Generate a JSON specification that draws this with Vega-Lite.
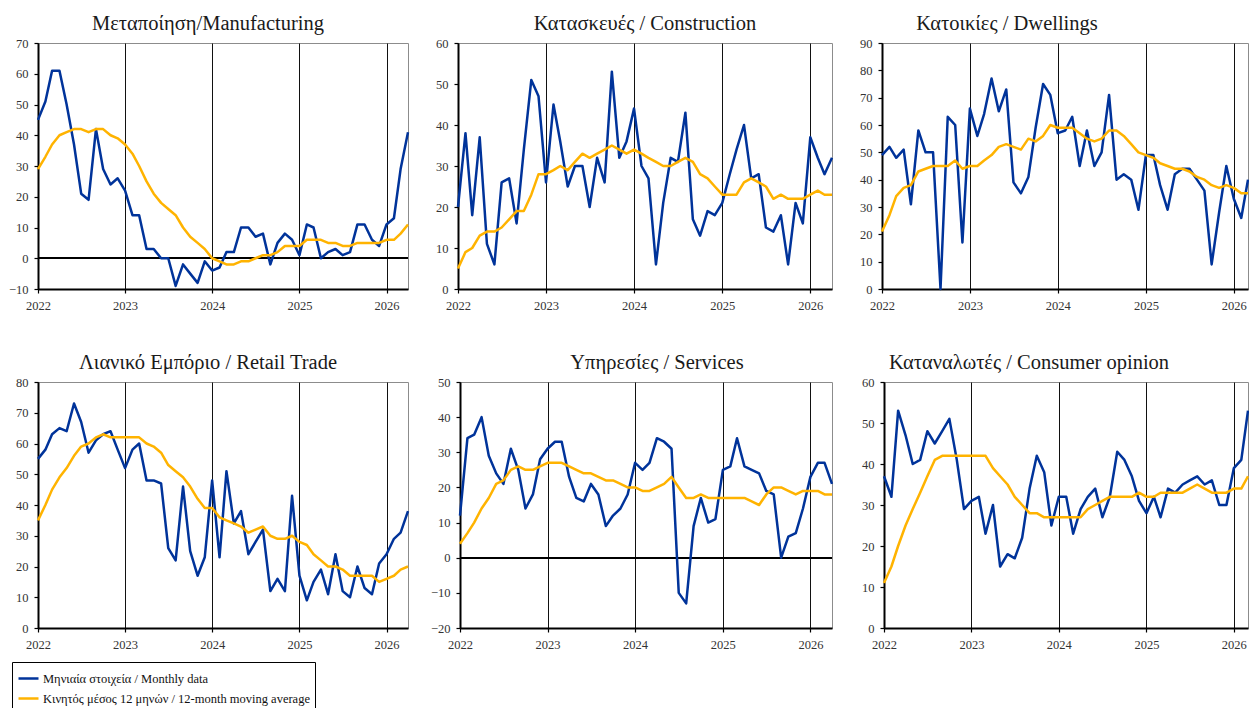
{
  "$schema": "https://vega.github.io/schema/vega-lite/v6.json",
  "autosize": {"type": "pad"},
  "padding": {"left": 7, "top": 13, "right": 0, "bottom": 0},
  "background": "white",
  "config": {
    "font": "Liberation Serif",
    "view": {"stroke": "#8c8c8c", "strokeWidth": 1},
    "axis": {"labelFont": "Liberation Serif", "labelFontSize": 12.5, "labelColor": "#333333", "domainColor": "#000000", "domainWidth": 2, "tickColor": "#000000", "tickSize": 4, "tickWidth": 1.2, "labelPadding": 6, "gridColor": "#111111", "gridWidth": 1, "gridOpacity": 1},
    "axisY": {"grid": false},
    "axisX": {"grid": true, "labelFlush": false, "labelOverlap": false},
    "title": {"font": "Liberation Serif", "fontSize": 20.5, "fontWeight": "normal", "color": "#1a1a1a", "frame": "group", "anchor": "middle", "offset": 3, "baseline": "alphabetic"},
    "legend": {"labelFont": "Liberation Serif", "labelFontSize": 12.5, "labelColor": "#111111", "symbolType": "stroke", "symbolSize": 400, "symbolStrokeWidth": 2.5, "padding": 5, "rowPadding": 2, "labelOffset": 3, "labelLimit": 600, "strokeColor": "#000000", "fillColor": "#ffffff"},
    "line": {"strokeWidth": 2.5, "strokeJoin": "round"}
  },
  "datasets": {
    "manufacturing": [
      {"month":"2022-01","monthly":45,"ma":29},{"month":"2022-02","monthly":51,"ma":33},{"month":"2022-03","monthly":61,"ma":37},{"month":"2022-04","monthly":61,"ma":40},{"month":"2022-05","monthly":50,"ma":41},{"month":"2022-06","monthly":37,"ma":42},{"month":"2022-07","monthly":21,"ma":42},{"month":"2022-08","monthly":19,"ma":41},{"month":"2022-09","monthly":42,"ma":42},{"month":"2022-10","monthly":29,"ma":42},{"month":"2022-11","monthly":24,"ma":40},{"month":"2022-12","monthly":26,"ma":39},
      {"month":"2023-01","monthly":22,"ma":37},{"month":"2023-02","monthly":14,"ma":34},{"month":"2023-03","monthly":14,"ma":30},{"month":"2023-04","monthly":3,"ma":25},{"month":"2023-05","monthly":3,"ma":21},{"month":"2023-06","monthly":0,"ma":18},{"month":"2023-07","monthly":0,"ma":16},{"month":"2023-08","monthly":-9,"ma":14},{"month":"2023-09","monthly":-2,"ma":10},{"month":"2023-10","monthly":-5,"ma":7},{"month":"2023-11","monthly":-8,"ma":5},{"month":"2023-12","monthly":-1,"ma":3},
      {"month":"2024-01","monthly":-4,"ma":0},{"month":"2024-02","monthly":-3,"ma":-1},{"month":"2024-03","monthly":2,"ma":-2},{"month":"2024-04","monthly":2,"ma":-2},{"month":"2024-05","monthly":10,"ma":-1},{"month":"2024-06","monthly":10,"ma":-1},{"month":"2024-07","monthly":7,"ma":0},{"month":"2024-08","monthly":8,"ma":1},{"month":"2024-09","monthly":-2,"ma":1},{"month":"2024-10","monthly":5,"ma":2},{"month":"2024-11","monthly":8,"ma":4},{"month":"2024-12","monthly":6,"ma":4},
      {"month":"2025-01","monthly":1,"ma":4},{"month":"2025-02","monthly":11,"ma":6},{"month":"2025-03","monthly":10,"ma":6},{"month":"2025-04","monthly":0,"ma":6},{"month":"2025-05","monthly":2,"ma":5},{"month":"2025-06","monthly":3,"ma":5},{"month":"2025-07","monthly":1,"ma":4},{"month":"2025-08","monthly":2,"ma":4},{"month":"2025-09","monthly":11,"ma":5},{"month":"2025-10","monthly":11,"ma":5},{"month":"2025-11","monthly":6,"ma":5},{"month":"2025-12","monthly":4,"ma":5},
      {"month":"2026-01","monthly":11,"ma":6},{"month":"2026-02","monthly":13,"ma":6},{"month":"2026-03","monthly":29,"ma":8},{"month":"2026-04","monthly":41,"ma":11}
    ],
    "construction": [
      {"month":"2022-01","monthly":20,"ma":5},{"month":"2022-02","monthly":38,"ma":9},{"month":"2022-03","monthly":18,"ma":10},{"month":"2022-04","monthly":37,"ma":13},{"month":"2022-05","monthly":11,"ma":14},{"month":"2022-06","monthly":6,"ma":14},{"month":"2022-07","monthly":26,"ma":15},{"month":"2022-08","monthly":27,"ma":17},{"month":"2022-09","monthly":16,"ma":19},{"month":"2022-10","monthly":34,"ma":19},{"month":"2022-11","monthly":51,"ma":23},{"month":"2022-12","monthly":47,"ma":28},
      {"month":"2023-01","monthly":26,"ma":28},{"month":"2023-02","monthly":45,"ma":29},{"month":"2023-03","monthly":36,"ma":30},{"month":"2023-04","monthly":25,"ma":29},{"month":"2023-05","monthly":30,"ma":31},{"month":"2023-06","monthly":30,"ma":33},{"month":"2023-07","monthly":20,"ma":32},{"month":"2023-08","monthly":32,"ma":33},{"month":"2023-09","monthly":26,"ma":34},{"month":"2023-10","monthly":53,"ma":35},{"month":"2023-11","monthly":32,"ma":34},{"month":"2023-12","monthly":36,"ma":33},
      {"month":"2024-01","monthly":44,"ma":34},{"month":"2024-02","monthly":30,"ma":33},{"month":"2024-03","monthly":27,"ma":32},{"month":"2024-04","monthly":6,"ma":31},{"month":"2024-05","monthly":21,"ma":30},{"month":"2024-06","monthly":32,"ma":30},{"month":"2024-07","monthly":31,"ma":31},{"month":"2024-08","monthly":43,"ma":32},{"month":"2024-09","monthly":17,"ma":31},{"month":"2024-10","monthly":13,"ma":28},{"month":"2024-11","monthly":19,"ma":27},{"month":"2024-12","monthly":18,"ma":25},
      {"month":"2025-01","monthly":21,"ma":23},{"month":"2025-02","monthly":28,"ma":23},{"month":"2025-03","monthly":34,"ma":23},{"month":"2025-04","monthly":40,"ma":26},{"month":"2025-05","monthly":27,"ma":27},{"month":"2025-06","monthly":28,"ma":26},{"month":"2025-07","monthly":15,"ma":25},{"month":"2025-08","monthly":14,"ma":22},{"month":"2025-09","monthly":18,"ma":23},{"month":"2025-10","monthly":6,"ma":22},{"month":"2025-11","monthly":21,"ma":22},{"month":"2025-12","monthly":16,"ma":22},
      {"month":"2026-01","monthly":37,"ma":23},{"month":"2026-02","monthly":32,"ma":24},{"month":"2026-03","monthly":28,"ma":23},{"month":"2026-04","monthly":32,"ma":23}
    ],
    "dwellings": [
      {"month":"2022-01","monthly":49,"ma":21},{"month":"2022-02","monthly":52,"ma":27},{"month":"2022-03","monthly":48,"ma":34},{"month":"2022-04","monthly":51,"ma":37},{"month":"2022-05","monthly":31,"ma":38},{"month":"2022-06","monthly":58,"ma":43},{"month":"2022-07","monthly":50,"ma":44},{"month":"2022-08","monthly":50,"ma":45},{"month":"2022-09","monthly":0,"ma":45},{"month":"2022-10","monthly":63,"ma":45},{"month":"2022-11","monthly":60,"ma":47},{"month":"2022-12","monthly":17,"ma":44},
      {"month":"2023-01","monthly":66,"ma":45},{"month":"2023-02","monthly":56,"ma":45},{"month":"2023-03","monthly":64,"ma":47},{"month":"2023-04","monthly":77,"ma":49},{"month":"2023-05","monthly":65,"ma":52},{"month":"2023-06","monthly":73,"ma":53},{"month":"2023-07","monthly":39,"ma":52},{"month":"2023-08","monthly":35,"ma":51},{"month":"2023-09","monthly":41,"ma":55},{"month":"2023-10","monthly":59,"ma":54},{"month":"2023-11","monthly":75,"ma":56},{"month":"2023-12","monthly":71,"ma":60},
      {"month":"2024-01","monthly":57,"ma":59},{"month":"2024-02","monthly":58,"ma":59},{"month":"2024-03","monthly":63,"ma":59},{"month":"2024-04","monthly":45,"ma":57},{"month":"2024-05","monthly":58,"ma":55},{"month":"2024-06","monthly":45,"ma":54},{"month":"2024-07","monthly":50,"ma":55},{"month":"2024-08","monthly":71,"ma":58},{"month":"2024-09","monthly":40,"ma":58},{"month":"2024-10","monthly":42,"ma":56},{"month":"2024-11","monthly":40,"ma":53},{"month":"2024-12","monthly":29,"ma":50},
      {"month":"2025-01","monthly":49,"ma":49},{"month":"2025-02","monthly":49,"ma":48},{"month":"2025-03","monthly":38,"ma":46},{"month":"2025-04","monthly":29,"ma":45},{"month":"2025-05","monthly":42,"ma":44},{"month":"2025-06","monthly":44,"ma":44},{"month":"2025-07","monthly":44,"ma":43},{"month":"2025-08","monthly":40,"ma":41},{"month":"2025-09","monthly":36,"ma":40},{"month":"2025-10","monthly":9,"ma":38},{"month":"2025-11","monthly":28,"ma":37},{"month":"2025-12","monthly":45,"ma":38},
      {"month":"2026-01","monthly":33,"ma":37},{"month":"2026-02","monthly":26,"ma":35},{"month":"2026-03","monthly":40,"ma":35}
    ],
    "retail": [
      {"month":"2022-01","monthly":55,"ma":35},{"month":"2022-02","monthly":58,"ma":40},{"month":"2022-03","monthly":63,"ma":45},{"month":"2022-04","monthly":65,"ma":49},{"month":"2022-05","monthly":64,"ma":52},{"month":"2022-06","monthly":73,"ma":56},{"month":"2022-07","monthly":67,"ma":59},{"month":"2022-08","monthly":57,"ma":60},{"month":"2022-09","monthly":61,"ma":62},{"month":"2022-10","monthly":63,"ma":63},{"month":"2022-11","monthly":64,"ma":62},{"month":"2022-12","monthly":58,"ma":62},
      {"month":"2023-01","monthly":52,"ma":62},{"month":"2023-02","monthly":58,"ma":62},{"month":"2023-03","monthly":60,"ma":62},{"month":"2023-04","monthly":48,"ma":60},{"month":"2023-05","monthly":48,"ma":59},{"month":"2023-06","monthly":47,"ma":57},{"month":"2023-07","monthly":26,"ma":53},{"month":"2023-08","monthly":22,"ma":51},{"month":"2023-09","monthly":46,"ma":49},{"month":"2023-10","monthly":25,"ma":46},{"month":"2023-11","monthly":17,"ma":42},{"month":"2023-12","monthly":23,"ma":39},
      {"month":"2024-01","monthly":48,"ma":39},{"month":"2024-02","monthly":23,"ma":36},{"month":"2024-03","monthly":51,"ma":35},{"month":"2024-04","monthly":34,"ma":34},{"month":"2024-05","monthly":38,"ma":33},{"month":"2024-06","monthly":24,"ma":31},{"month":"2024-07","monthly":28,"ma":32},{"month":"2024-08","monthly":32,"ma":33},{"month":"2024-09","monthly":12,"ma":30},{"month":"2024-10","monthly":16,"ma":29},{"month":"2024-11","monthly":12,"ma":29},{"month":"2024-12","monthly":43,"ma":30},
      {"month":"2025-01","monthly":17,"ma":28},{"month":"2025-02","monthly":9,"ma":27},{"month":"2025-03","monthly":15,"ma":24},{"month":"2025-04","monthly":19,"ma":22},{"month":"2025-05","monthly":11,"ma":20},{"month":"2025-06","monthly":24,"ma":20},{"month":"2025-07","monthly":12,"ma":19},{"month":"2025-08","monthly":10,"ma":17},{"month":"2025-09","monthly":20,"ma":17},{"month":"2025-10","monthly":13,"ma":17},{"month":"2025-11","monthly":11,"ma":17},{"month":"2025-12","monthly":21,"ma":15},
      {"month":"2026-01","monthly":24,"ma":16},{"month":"2026-02","monthly":29,"ma":17},{"month":"2026-03","monthly":31,"ma":19},{"month":"2026-04","monthly":38,"ma":20}
    ],
    "services": [
      {"month":"2022-01","monthly":12,"ma":4},{"month":"2022-02","monthly":34,"ma":7},{"month":"2022-03","monthly":35,"ma":10},{"month":"2022-04","monthly":40,"ma":14},{"month":"2022-05","monthly":29,"ma":17},{"month":"2022-06","monthly":24,"ma":21},{"month":"2022-07","monthly":21,"ma":22},{"month":"2022-08","monthly":31,"ma":25},{"month":"2022-09","monthly":25,"ma":26},{"month":"2022-10","monthly":14,"ma":25},{"month":"2022-11","monthly":18,"ma":25},{"month":"2022-12","monthly":28,"ma":26},
      {"month":"2023-01","monthly":31,"ma":27},{"month":"2023-02","monthly":33,"ma":27},{"month":"2023-03","monthly":33,"ma":27},{"month":"2023-04","monthly":23,"ma":26},{"month":"2023-05","monthly":17,"ma":25},{"month":"2023-06","monthly":16,"ma":24},{"month":"2023-07","monthly":21,"ma":24},{"month":"2023-08","monthly":18,"ma":23},{"month":"2023-09","monthly":9,"ma":22},{"month":"2023-10","monthly":12,"ma":22},{"month":"2023-11","monthly":14,"ma":21},{"month":"2023-12","monthly":18,"ma":20},
      {"month":"2024-01","monthly":27,"ma":20},{"month":"2024-02","monthly":25,"ma":19},{"month":"2024-03","monthly":27,"ma":19},{"month":"2024-04","monthly":34,"ma":20},{"month":"2024-05","monthly":33,"ma":21},{"month":"2024-06","monthly":31,"ma":23},{"month":"2024-07","monthly":-10,"ma":20},{"month":"2024-08","monthly":-13,"ma":17},{"month":"2024-09","monthly":9,"ma":17},{"month":"2024-10","monthly":17,"ma":18},{"month":"2024-11","monthly":10,"ma":17},{"month":"2024-12","monthly":11,"ma":17},
      {"month":"2025-01","monthly":25,"ma":17},{"month":"2025-02","monthly":26,"ma":17},{"month":"2025-03","monthly":34,"ma":17},{"month":"2025-04","monthly":26,"ma":17},{"month":"2025-05","monthly":25,"ma":16},{"month":"2025-06","monthly":24,"ma":15},{"month":"2025-07","monthly":19,"ma":18},{"month":"2025-08","monthly":18,"ma":20},{"month":"2025-09","monthly":0,"ma":20},{"month":"2025-10","monthly":6,"ma":19},{"month":"2025-11","monthly":7,"ma":18},{"month":"2025-12","monthly":14,"ma":19},
      {"month":"2026-01","monthly":23,"ma":19},{"month":"2026-02","monthly":27,"ma":19},{"month":"2026-03","monthly":27,"ma":18},{"month":"2026-04","monthly":21,"ma":18}
    ],
    "consumer": [
      {"month":"2022-01","monthly":37,"ma":11},{"month":"2022-02","monthly":32,"ma":15},{"month":"2022-03","monthly":53,"ma":20},{"month":"2022-04","monthly":47,"ma":25},{"month":"2022-05","monthly":40,"ma":29},{"month":"2022-06","monthly":41,"ma":33},{"month":"2022-07","monthly":48,"ma":37},{"month":"2022-08","monthly":45,"ma":41},{"month":"2022-09","monthly":48,"ma":42},{"month":"2022-10","monthly":51,"ma":42},{"month":"2022-11","monthly":41,"ma":42},{"month":"2022-12","monthly":29,"ma":42},
      {"month":"2023-01","monthly":31,"ma":42},{"month":"2023-02","monthly":32,"ma":42},{"month":"2023-03","monthly":23,"ma":42},{"month":"2023-04","monthly":30,"ma":39},{"month":"2023-05","monthly":15,"ma":37},{"month":"2023-06","monthly":18,"ma":35},{"month":"2023-07","monthly":17,"ma":32},{"month":"2023-08","monthly":22,"ma":30},{"month":"2023-09","monthly":34,"ma":28},{"month":"2023-10","monthly":42,"ma":28},{"month":"2023-11","monthly":38,"ma":27},{"month":"2023-12","monthly":25,"ma":27},
      {"month":"2024-01","monthly":32,"ma":27},{"month":"2024-02","monthly":32,"ma":27},{"month":"2024-03","monthly":23,"ma":27},{"month":"2024-04","monthly":29,"ma":27},{"month":"2024-05","monthly":32,"ma":29},{"month":"2024-06","monthly":34,"ma":30},{"month":"2024-07","monthly":27,"ma":31},{"month":"2024-08","monthly":32,"ma":32},{"month":"2024-09","monthly":43,"ma":32},{"month":"2024-10","monthly":41,"ma":32},{"month":"2024-11","monthly":37,"ma":32},{"month":"2024-12","monthly":31,"ma":33},
      {"month":"2025-01","monthly":28,"ma":32},{"month":"2025-02","monthly":32,"ma":32},{"month":"2025-03","monthly":27,"ma":33},{"month":"2025-04","monthly":34,"ma":33},{"month":"2025-05","monthly":33,"ma":33},{"month":"2025-06","monthly":35,"ma":33},{"month":"2025-07","monthly":36,"ma":34},{"month":"2025-08","monthly":37,"ma":35},{"month":"2025-09","monthly":35,"ma":34},{"month":"2025-10","monthly":36,"ma":33},{"month":"2025-11","monthly":30,"ma":33},{"month":"2025-12","monthly":30,"ma":33},
      {"month":"2026-01","monthly":39,"ma":34},{"month":"2026-02","monthly":41,"ma":34},{"month":"2026-03","monthly":53,"ma":37}
    ]
  },
  "bounds": "flush",
  "spacing": 339,
  "vconcat": [
    {
      "bounds": "flush",
      "spacing": 50,
      "hconcat": [
        {
          "width": 370, "height": 246,
          "title": {"text": "Μεταποίηση/Manufacturing", "dx": -15},
          "data": {"name": "manufacturing"},
          "layer": [
            {"mark": {"type": "rule", "color": "#000000", "strokeWidth": 1}, "encoding": {"y": {"datum": 0, "type": "quantitative", "scale": {"domain": [-10, 70], "nice": false}, "axis": {"title": null, "values": [-10, 0, 10, 20, 30, 40, 50, 60, 70]}}}},
            {"mark": {"type": "line"}, "encoding": {
              "x": {"field": "month", "type": "temporal", "scale": {"type": "utc", "domain": [{"year": 2022, "month": 1, "date": 1, "utc": true}, {"year": 2026, "month": 4, "date": 1, "utc": true}]}, "axis": {"title": null, "format": "%Y", "values": [{"year": 2022, "month": 1, "date": 1, "utc": true}, {"year": 2023, "month": 1, "date": 1, "utc": true}, {"year": 2024, "month": 1, "date": 1, "utc": true}, {"year": 2025, "month": 1, "date": 1, "utc": true}, {"year": 2026, "month": 1, "date": 1, "utc": true}]}},
              "y": {"field": "monthly", "type": "quantitative", "scale": {"domain": [-10, 70], "nice": false}, "axis": {"title": null, "values": [-10, 0, 10, 20, 30, 40, 50, 60, 70]}},
              "color": {"datum": "Μηνιαία στοιχεία / Monthly data", "type": "nominal", "scale": {"domain": ["Μηνιαία στοιχεία / Monthly data", "Κινητός μέσος 12 μηνών / 12-month moving average"], "range": ["#00339A", "#FFB300"]}, "legend": {"title": null, "orient": "none", "legendX": -26, "legendY": 619, "direction": "vertical", "labelExpr": "datum.label + '                             '"}}}},
            {"mark": {"type": "line"}, "encoding": {
              "x": {"field": "month", "type": "temporal", "scale": {"type": "utc", "domain": [{"year": 2022, "month": 1, "date": 1, "utc": true}, {"year": 2026, "month": 4, "date": 1, "utc": true}]}, "axis": {"title": null, "format": "%Y", "values": [{"year": 2022, "month": 1, "date": 1, "utc": true}, {"year": 2023, "month": 1, "date": 1, "utc": true}, {"year": 2024, "month": 1, "date": 1, "utc": true}, {"year": 2025, "month": 1, "date": 1, "utc": true}, {"year": 2026, "month": 1, "date": 1, "utc": true}]}},
              "y": {"field": "ma", "type": "quantitative", "scale": {"domain": [-10, 70], "nice": false}, "axis": {"title": null, "values": [-10, 0, 10, 20, 30, 40, 50, 60, 70]}},
              "color": {"datum": "Κινητός μέσος 12 μηνών / 12-month moving average", "type": "nominal", "scale": {"domain": ["Μηνιαία στοιχεία / Monthly data", "Κινητός μέσος 12 μηνών / 12-month moving average"], "range": ["#00339A", "#FFB300"]}, "legend": {"title": null, "orient": "none", "legendX": -26, "legendY": 619, "direction": "vertical", "labelExpr": "datum.label + '                             '"}}}}
          ]
        },
        {
          "width": 374, "height": 246,
          "title": {"text": "Κατασκευές / Construction", "dx": 0},
          "data": {"name": "construction"},
          "encoding": {
            "x": {"field": "month", "type": "temporal", "scale": {"type": "utc", "domain": [{"year": 2022, "month": 1, "date": 1, "utc": true}, {"year": 2026, "month": 4, "date": 1, "utc": true}]}, "axis": {"title": null, "format": "%Y", "values": [{"year": 2022, "month": 1, "date": 1, "utc": true}, {"year": 2023, "month": 1, "date": 1, "utc": true}, {"year": 2024, "month": 1, "date": 1, "utc": true}, {"year": 2025, "month": 1, "date": 1, "utc": true}, {"year": 2026, "month": 1, "date": 1, "utc": true}]}}
          },
          "layer": [
            {"mark": {"type": "line"}, "encoding": {
              "y": {"field": "monthly", "type": "quantitative", "scale": {"domain": [0, 60], "nice": false}, "axis": {"title": null, "values": [0, 10, 20, 30, 40, 50, 60]}},
              "color": {"datum": "Μηνιαία στοιχεία / Monthly data", "type": "nominal", "scale": {"domain": ["Μηνιαία στοιχεία / Monthly data", "Κινητός μέσος 12 μηνών / 12-month moving average"], "range": ["#00339A", "#FFB300"]}, "legend": {"title": null, "orient": "none", "legendX": -26, "legendY": 619, "direction": "vertical", "labelExpr": "datum.label + '                             '"}}}},
            {"mark": {"type": "line"}, "encoding": {
              "y": {"field": "ma", "type": "quantitative", "scale": {"domain": [0, 60], "nice": false}, "axis": {"title": null, "values": [0, 10, 20, 30, 40, 50, 60]}},
              "color": {"datum": "Κινητός μέσος 12 μηνών / 12-month moving average", "type": "nominal", "scale": {"domain": ["Μηνιαία στοιχεία / Monthly data", "Κινητός μέσος 12 μηνών / 12-month moving average"], "range": ["#00339A", "#FFB300"]}, "legend": {"title": null, "orient": "none", "legendX": -26, "legendY": 619, "direction": "vertical", "labelExpr": "datum.label + '                             '"}}}}
          ]
        },
        {
          "width": 366, "height": 246,
          "title": {"text": "Κατοικίες / Dwellings", "dx": -58},
          "data": {"name": "dwellings"},
          "encoding": {
            "x": {"field": "month", "type": "temporal", "scale": {"type": "utc", "domain": [{"year": 2022, "month": 1, "date": 1, "utc": true}, {"year": 2026, "month": 3, "date": 1, "utc": true}]}, "axis": {"title": null, "format": "%Y", "values": [{"year": 2022, "month": 1, "date": 1, "utc": true}, {"year": 2023, "month": 1, "date": 1, "utc": true}, {"year": 2024, "month": 1, "date": 1, "utc": true}, {"year": 2025, "month": 1, "date": 1, "utc": true}, {"year": 2026, "month": 1, "date": 1, "utc": true}]}}
          },
          "layer": [
            {"mark": {"type": "line"}, "encoding": {
              "y": {"field": "monthly", "type": "quantitative", "scale": {"domain": [0, 90], "nice": false}, "axis": {"title": null, "values": [0, 10, 20, 30, 40, 50, 60, 70, 80, 90]}},
              "color": {"datum": "Μηνιαία στοιχεία / Monthly data", "type": "nominal", "scale": {"domain": ["Μηνιαία στοιχεία / Monthly data", "Κινητός μέσος 12 μηνών / 12-month moving average"], "range": ["#00339A", "#FFB300"]}, "legend": {"title": null, "orient": "none", "legendX": -26, "legendY": 619, "direction": "vertical", "labelExpr": "datum.label + '                             '"}}}},
            {"mark": {"type": "line"}, "encoding": {
              "y": {"field": "ma", "type": "quantitative", "scale": {"domain": [0, 90], "nice": false}, "axis": {"title": null, "values": [0, 10, 20, 30, 40, 50, 60, 70, 80, 90]}},
              "color": {"datum": "Κινητός μέσος 12 μηνών / 12-month moving average", "type": "nominal", "scale": {"domain": ["Μηνιαία στοιχεία / Monthly data", "Κινητός μέσος 12 μηνών / 12-month moving average"], "range": ["#00339A", "#FFB300"]}, "legend": {"title": null, "orient": "none", "legendX": -26, "legendY": 619, "direction": "vertical", "labelExpr": "datum.label + '                             '"}}}}
          ]
        }
      ]
    },
    {
      "bounds": "flush",
      "spacing": 52,
      "hconcat": [
        {
          "width": 370, "height": 246,
          "title": {"text": "Λιανικό Εμπόριο / Retail Trade", "dx": -15},
          "data": {"name": "retail"},
          "encoding": {
            "x": {"field": "month", "type": "temporal", "scale": {"type": "utc", "domain": [{"year": 2022, "month": 1, "date": 1, "utc": true}, {"year": 2026, "month": 4, "date": 1, "utc": true}]}, "axis": {"title": null, "format": "%Y", "values": [{"year": 2022, "month": 1, "date": 1, "utc": true}, {"year": 2023, "month": 1, "date": 1, "utc": true}, {"year": 2024, "month": 1, "date": 1, "utc": true}, {"year": 2025, "month": 1, "date": 1, "utc": true}, {"year": 2026, "month": 1, "date": 1, "utc": true}]}}
          },
          "layer": [
            {"mark": {"type": "line"}, "encoding": {
              "y": {"field": "monthly", "type": "quantitative", "scale": {"domain": [0, 80], "nice": false}, "axis": {"title": null, "values": [0, 10, 20, 30, 40, 50, 60, 70, 80]}},
              "color": {"datum": "Μηνιαία στοιχεία / Monthly data", "type": "nominal", "scale": {"domain": ["Μηνιαία στοιχεία / Monthly data", "Κινητός μέσος 12 μηνών / 12-month moving average"], "range": ["#00339A", "#FFB300"]}, "legend": {"title": null, "orient": "none", "legendX": -26, "legendY": 619, "direction": "vertical", "labelExpr": "datum.label + '                             '"}}}},
            {"mark": {"type": "line"}, "encoding": {
              "y": {"field": "ma", "type": "quantitative", "scale": {"domain": [0, 80], "nice": false}, "axis": {"title": null, "values": [0, 10, 20, 30, 40, 50, 60, 70, 80]}},
              "color": {"datum": "Κινητός μέσος 12 μηνών / 12-month moving average", "type": "nominal", "scale": {"domain": ["Μηνιαία στοιχεία / Monthly data", "Κινητός μέσος 12 μηνών / 12-month moving average"], "range": ["#00339A", "#FFB300"]}, "legend": {"title": null, "orient": "none", "legendX": -26, "legendY": 619, "direction": "vertical", "labelExpr": "datum.label + '                             '"}}}}
          ]
        },
        {
          "width": 372, "height": 246,
          "title": {"text": "Υπηρεσίες / Services", "dx": 11},
          "data": {"name": "services"},
          "layer": [
            {"mark": {"type": "rule", "color": "#000000", "strokeWidth": 1}, "encoding": {"y": {"datum": 0, "type": "quantitative", "scale": {"domain": [-20, 50], "nice": false}, "axis": {"title": null, "values": [-20, -10, 0, 10, 20, 30, 40, 50]}}}},
            {"mark": {"type": "line"}, "encoding": {
              "x": {"field": "month", "type": "temporal", "scale": {"type": "utc", "domain": [{"year": 2022, "month": 1, "date": 1, "utc": true}, {"year": 2026, "month": 4, "date": 1, "utc": true}]}, "axis": {"title": null, "format": "%Y", "values": [{"year": 2022, "month": 1, "date": 1, "utc": true}, {"year": 2023, "month": 1, "date": 1, "utc": true}, {"year": 2024, "month": 1, "date": 1, "utc": true}, {"year": 2025, "month": 1, "date": 1, "utc": true}, {"year": 2026, "month": 1, "date": 1, "utc": true}]}},
              "y": {"field": "monthly", "type": "quantitative", "scale": {"domain": [-20, 50], "nice": false}, "axis": {"title": null, "values": [-20, -10, 0, 10, 20, 30, 40, 50]}},
              "color": {"datum": "Μηνιαία στοιχεία / Monthly data", "type": "nominal", "scale": {"domain": ["Μηνιαία στοιχεία / Monthly data", "Κινητός μέσος 12 μηνών / 12-month moving average"], "range": ["#00339A", "#FFB300"]}, "legend": {"title": null, "orient": "none", "legendX": -26, "legendY": 619, "direction": "vertical", "labelExpr": "datum.label + '                             '"}}}},
            {"mark": {"type": "line"}, "encoding": {
              "x": {"field": "month", "type": "temporal", "scale": {"type": "utc", "domain": [{"year": 2022, "month": 1, "date": 1, "utc": true}, {"year": 2026, "month": 4, "date": 1, "utc": true}]}, "axis": {"title": null, "format": "%Y", "values": [{"year": 2022, "month": 1, "date": 1, "utc": true}, {"year": 2023, "month": 1, "date": 1, "utc": true}, {"year": 2024, "month": 1, "date": 1, "utc": true}, {"year": 2025, "month": 1, "date": 1, "utc": true}, {"year": 2026, "month": 1, "date": 1, "utc": true}]}},
              "y": {"field": "ma", "type": "quantitative", "scale": {"domain": [-20, 50], "nice": false}, "axis": {"title": null, "values": [-20, -10, 0, 10, 20, 30, 40, 50]}},
              "color": {"datum": "Κινητός μέσος 12 μηνών / 12-month moving average", "type": "nominal", "scale": {"domain": ["Μηνιαία στοιχεία / Monthly data", "Κινητός μέσος 12 μηνών / 12-month moving average"], "range": ["#00339A", "#FFB300"]}, "legend": {"title": null, "orient": "none", "legendX": -26, "legendY": 619, "direction": "vertical", "labelExpr": "datum.label + '                             '"}}}}
          ]
        },
        {
          "width": 364, "height": 246,
          "title": {"text": "Καταναλωτές / Consumer opinion", "dx": -37},
          "data": {"name": "consumer"},
          "encoding": {
            "x": {"field": "month", "type": "temporal", "scale": {"type": "utc", "domain": [{"year": 2022, "month": 1, "date": 1, "utc": true}, {"year": 2026, "month": 3, "date": 1, "utc": true}]}, "axis": {"title": null, "format": "%Y", "values": [{"year": 2022, "month": 1, "date": 1, "utc": true}, {"year": 2023, "month": 1, "date": 1, "utc": true}, {"year": 2024, "month": 1, "date": 1, "utc": true}, {"year": 2025, "month": 1, "date": 1, "utc": true}, {"year": 2026, "month": 1, "date": 1, "utc": true}]}}
          },
          "layer": [
            {"mark": {"type": "line"}, "encoding": {
              "y": {"field": "monthly", "type": "quantitative", "scale": {"domain": [0, 60], "nice": false}, "axis": {"title": null, "values": [0, 10, 20, 30, 40, 50, 60]}},
              "color": {"datum": "Μηνιαία στοιχεία / Monthly data", "type": "nominal", "scale": {"domain": ["Μηνιαία στοιχεία / Monthly data", "Κινητός μέσος 12 μηνών / 12-month moving average"], "range": ["#00339A", "#FFB300"]}, "legend": {"title": null, "orient": "none", "legendX": -26, "legendY": 619, "direction": "vertical", "labelExpr": "datum.label + '                             '"}}}},
            {"mark": {"type": "line"}, "encoding": {
              "y": {"field": "ma", "type": "quantitative", "scale": {"domain": [0, 60], "nice": false}, "axis": {"title": null, "values": [0, 10, 20, 30, 40, 50, 60]}},
              "color": {"datum": "Κινητός μέσος 12 μηνών / 12-month moving average", "type": "nominal", "scale": {"domain": ["Μηνιαία στοιχεία / Monthly data", "Κινητός μέσος 12 μηνών / 12-month moving average"], "range": ["#00339A", "#FFB300"]}, "legend": {"title": null, "orient": "none", "legendX": -26, "legendY": 619, "direction": "vertical", "labelExpr": "datum.label + '                             '"}}}}
          ]
        }
      ]
    }
  ]
}
